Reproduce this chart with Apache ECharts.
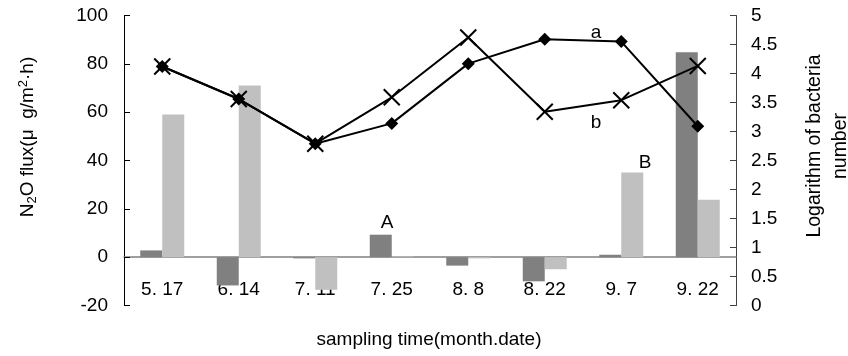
<!DOCTYPE html>
<html><head><meta charset="utf-8">
<script src="https://cdn.jsdelivr.net/npm/echarts@6/dist/echarts.min.js"></script>
<style>html,body{margin:0;padding:0;background:#fff}#c{width:848px;height:356px}</style>
</head><body><div id="c"></div>
<script>
var categories = ['5. 17','6. 14','7. 11','7. 25','8. 8','8. 22','9. 7','9. 22'];
var fluxA = [2.8, -11.7, -0.5, 9.3, -3.5, -10, 1, 84.8];
var fluxB = [59, 71, -13.5, 0.3, -0.5, -5, 35, 23.8];
var bacteriaA = [4.12, 3.56, 2.79, 3.14, 4.17, 4.59, 4.55, 3.09];
var bacteriaB = [4.12, 3.56, 2.79, 3.59, 4.62, 3.34, 3.54, 4.13];
var leftTicks = {min: -20, max: 100, interval: 20};
var rightTicks = {min: 0, max: 5, interval: 0.5};

var FONT = 'Liberation Sans, Arial, sans-serif';
var chart = echarts.init(document.getElementById('c'), null, {renderer: 'canvas'});
var crossPath = 'path://M0,0L10,10M10,0L0,10';
chart.setOption({
  animation: false,
  backgroundColor: '#fff',
  grid: {left: 124, right: 112, top: 15.5, bottom: 50.5, containLabel: false},
  xAxis: {
    type: 'category', data: categories,
    axisLine: {onZero: true, lineStyle: {color: '#808080', width: 1.5}},
    axisTick: {inside: true, length: 6, lineStyle: {color: '#000'}},
    axisLabel: {margin: -25, fontSize: 19, color: '#000', fontFamily: FONT},
    splitLine: {show: false}
  },
  yAxis: [{
    type: 'value', min: leftTicks.min, max: leftTicks.max, interval: leftTicks.interval,
    axisLine: {show: true, onZero: false, lineStyle: {color: '#000', width: 1}},
    axisTick: {show: true, inside: true, length: 6, lineStyle: {color: '#000'}},
    axisLabel: {margin: 16, fontSize: 19, color: '#000', fontFamily: FONT},
    splitLine: {show: false}
  }, {
    type: 'value', min: rightTicks.min, max: rightTicks.max, interval: rightTicks.interval,
    position: 'right',
    axisLine: {show: true, onZero: false, lineStyle: {color: '#404040', width: 1}},
    axisTick: {show: true, inside: true, length: 6, lineStyle: {color: '#404040'}},
    axisLabel: {margin: 15, fontSize: 19, color: '#000', fontFamily: FONT},
    splitLine: {show: false}
  }],
  series: [{
    type: 'bar', data: fluxA, yAxisIndex: 0, barWidth: 22, barGap: '0%',
    itemStyle: {color: '#808080'}, z: 2
  }, {
    type: 'bar', data: fluxB, yAxisIndex: 0, barWidth: 22, barGap: '0%',
    itemStyle: {color: '#c0c0c0'}, z: 2
  }, {
    type: 'line', data: bacteriaA, yAxisIndex: 1,
    symbol: 'diamond', symbolSize: 13,
    lineStyle: {color: '#000', width: 2},
    itemStyle: {color: '#000'}, z: 5
  }, {
    type: 'line', data: bacteriaB, yAxisIndex: 1,
    symbol: crossPath, symbolSize: 16, symbolKeepAspect: true,
    lineStyle: {color: '#000', width: 2},
    itemStyle: {color: 'rgba(0,0,0,0)', borderColor: '#000', borderWidth: 2}, z: 6
  }],
  graphic: [
    {type: 'text', x: 28, y: 137, rotation: Math.PI / 2,
     style: {text: '{a|N}{s|2}{a|O flux(μ  g/m}{p|2}{a|·h)}', align: 'center', verticalAlign: 'middle',
       rich: {
         a: {fontSize: 19, fontFamily: FONT, fill: '#000', lineHeight: 26, verticalAlign: 'middle'},
         s: {fontSize: 13, fontFamily: FONT, fill: '#000', lineHeight: 26, verticalAlign: 'bottom', padding: [0, 0, 2, 0]},
         p: {fontSize: 13, fontFamily: FONT, fill: '#000', lineHeight: 26, verticalAlign: 'top', padding: [2, 0, 0, 0]}
       }}},
    {type: 'text', x: 828, y: 146, rotation: Math.PI / 2,
     style: {text: 'Logarithm of bacteria\nnumber', align: 'center', verticalAlign: 'middle',
       fontSize: 19.5, fontFamily: FONT, fill: '#000', lineHeight: 26}},
    {type: 'text', x: 429, y: 340,
     style: {text: 'sampling time(month.date)', align: 'center', verticalAlign: 'middle',
       fontSize: 19, fontFamily: FONT, fill: '#000'}},
    {type: 'text', x: 596, y: 33, style: {text: 'a', align: 'center', verticalAlign: 'middle', fontSize: 19, fontFamily: FONT, fill: '#000'}},
    {type: 'text', x: 596, y: 123, style: {text: 'b', align: 'center', verticalAlign: 'middle', fontSize: 19, fontFamily: FONT, fill: '#000'}},
    {type: 'text', x: 387, y: 223, style: {text: 'A', align: 'center', verticalAlign: 'middle', fontSize: 19, fontFamily: FONT, fill: '#000'}},
    {type: 'text', x: 645, y: 163, style: {text: 'B', align: 'center', verticalAlign: 'middle', fontSize: 19, fontFamily: FONT, fill: '#000'}}
  ]
});
</script></body></html>
